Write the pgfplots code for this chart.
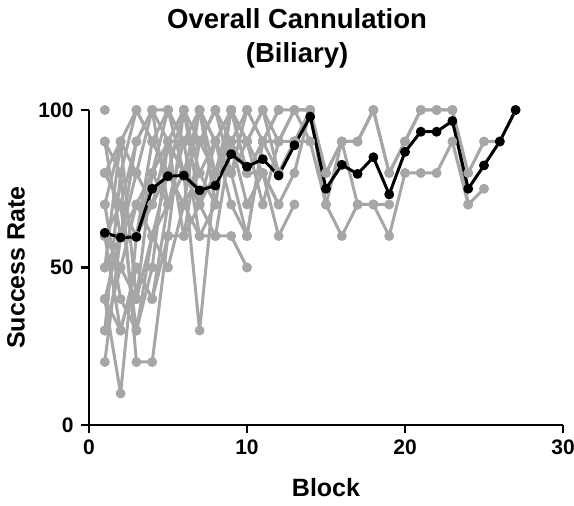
\documentclass[border=0pt]{standalone}
\usepackage{fontspec}
\setmainfont{Liberation Sans}
\usepackage{pgfplots}
\pgfplotsset{compat=1.18}
\definecolor{indiv}{RGB}{166,166,166}

\begin{document}
\begin{tikzpicture}
\begin{axis}[
    scale only axis,
    width=474pt, height=315pt,
    xmin=0, xmax=30, ymin=0, ymax=100,
    xtick={0,10,20,30}, ytick={0,50,100},
    axis x line*=bottom, axis y line*=left,
    axis line style={line width=2.8pt, -},
    tick style={line width=2.8pt, black},
    tick align=outside, major tick length=8pt,
    tick label style={font=\bfseries\fontsize{21}{24}\selectfont},
    xticklabel style={yshift=-3pt},
    yticklabel style={xshift=-4pt},
    /pgf/number format/assume math mode=true,
    xlabel={\bfseries Block}, ylabel={\bfseries Success Rate},
    label style={font=\bfseries\fontsize{25}{30}\selectfont},
    xlabel style={at={(axis description cs:0.5,-0.2)}, anchor=center},
    ylabel style={at={(axis description cs:-0.154,0.5)}, anchor=center},
    title={Overall Cannulation\\(Biliary)},
    title style={font=\bfseries\fontsize{27.5}{34}\selectfont, align=center,
        at={(axis description cs:0.439,1)}, anchor=center, yshift=66pt},
    clip=false,
    every axis plot/.append style={line width=3pt, line join=round},
]
\pgfplotsset{ind/.style={color=indiv, mark=*, mark size=3.4pt}}
% individual trainees
\addplot[ind] coordinates {(1,80)(2,70)(3,90)(4,100)(5,90)(6,100)(7,80)(8,90)(9,100)(10,90)(11,100)(12,90)(13,100)(14,100)(15,80)(16,90)(17,90)(18,100)(19,80)(20,90)(21,100)(22,100)(23,100)(24,80)(25,90)(26,90)(27,100)};
\addplot[ind] coordinates {(1,60)(2,50)(3,70)(4,80)(5,70)(6,90)(7,90)(8,80)(9,90)(10,80)(11,90)(12,80)(13,90)(14,100)(15,70)(16,60)(17,70)(18,70)(19,60)(20,80)(21,80)(22,80)(23,90)(24,70)(25,75)};
\addplot[ind] coordinates {(1,70)(2,90)(3,80)(4,70)(5,80)(6,70)(7,100)(8,80)(9,80)(10,90)(11,80)(12,70)(13,80)(14,100)(15,80)(16,90)(17,90)(18,100)(19,80)(20,90)(21,100)(22,100)(23,100)(24,70)};
\addplot[ind] coordinates {(1,50)(2,60)(3,60)(4,80)(5,90)(6,80)(7,70)(8,90)(9,100)(10,80)(11,90)(12,90)(13,90)(14,90)(15,70)(16,90)(17,70)(18,70)(19,70)};
\addplot[ind] coordinates {(1,90)(2,80)(3,100)(4,90)(5,100)(6,80)(7,90)(8,100)(9,80)(10,100)(11,90)(12,100)(13,100)(14,100)};
\addplot[ind] coordinates {(1,40)(2,60)(3,70)(4,60)(5,80)(6,70)(7,80)(8,70)(9,100)(10,80)(11,80)(12,60)(13,70)};
\addplot[ind] coordinates {(1,80)(2,70)(3,60)(4,90)(5,80)(6,100)(7,70)(8,60)(9,90)(10,90)(11,100)(12,80)(13,90)};
\addplot[ind] coordinates {(1,30)(2,50)(3,40)(4,60)(5,70)(6,80)(7,30)(8,80)(9,90)(10,70)(11,80)(12,70)};
\addplot[ind] coordinates {(1,20)(2,60)(3,90)(4,100)(5,100)(6,90)(7,60)(8,60)(9,60)(10,50)};
\addplot[ind] coordinates {(1,40)(2,10)(3,60)(4,70)(5,90)(6,90)(7,100)(8,90)(9,70)(10,60)(11,90)};
\addplot[ind] coordinates {(1,30)(2,80)(3,20)(4,20)(5,60)(6,60)(7,90)(8,100)};
\addplot[ind] coordinates {(1,60)(2,30)(3,50)(4,40)(5,60)(6,100)};
\addplot[ind] coordinates {(1,70)(2,40)(3,30)(4,50)(5,90)(6,60)(7,70)(8,80)(9,100)};
\addplot[ind] coordinates {(1,50)(2,90)(3,40)(4,80)(5,100)(6,90)(7,100)(8,90)(9,80)(10,60)(11,90)(12,100)};
\addplot[ind] coordinates {(1,80)(2,90)(3,100)(4,90)(5,80)(6,100)(7,90)(8,100)(9,90)(10,100)};
\addplot[ind] coordinates {(1,60)(2,70)(3,30)(4,60)(5,50)(6,70)(7,60)(8,70)};
\addplot[ind] coordinates {(1,40)(2,30)(3,50)(4,40)(5,70)};
\addplot[ind] coordinates {(1,100)};
\addplot[ind] coordinates {(1,90)(2,60)(3,80)(4,100)(5,70)(6,80)(7,100)(8,70)(9,100)(10,90)(11,70)(12,90)(13,100)(14,90)};
% mean
\addplot[black, mark=*, mark size=3.4pt] coordinates {
    (1,61)(2,59.5)(3,59.7)(4,75)(5,79)(6,79.2)(7,74.5)(8,76)(9,86)(10,82)
    (11,84.4)(12,79.2)(13,88.8)(14,97.9)(15,75)(16,82.6)(17,79.7)(18,85)(19,73.2)(20,86.7)
    (21,93.1)(22,93.1)(23,96.5)(24,75)(25,82.4)(26,90)(27,100)};
\end{axis}
\pgfresetboundingbox
\path[use as bounding box] ([xshift=-89pt,yshift=-80pt]current axis.south west)
    rectangle ([xshift=11pt,yshift=110pt]current axis.north east);
\end{tikzpicture}
\end{document}
